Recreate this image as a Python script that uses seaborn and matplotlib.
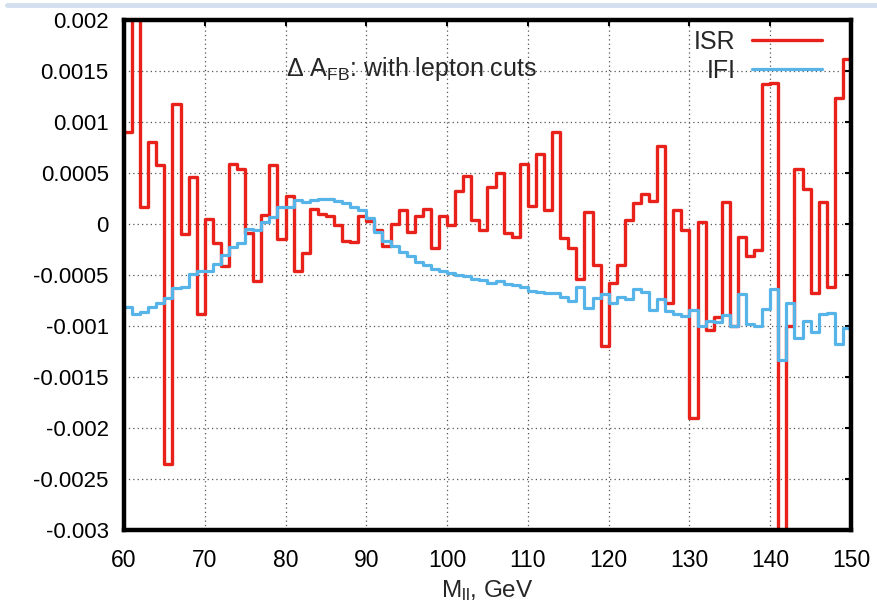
import numpy as np
import pandas as pd
import matplotlib
matplotlib.use('Agg')
import matplotlib.pyplot as plt
import seaborn as sns

# bin edges 60..150 GeV, 1 GeV bins
edges = list(range(60, 151))

isr = [0.0009, 0.0025, 0.00017, 0.0008, 0.00058, -0.00235, 0.00118, -0.0001, 0.00046, -0.00088,
       0.00005, -0.00019, -0.00041, 0.00059, 0.00054, -0.00009, -0.00056, 0.00009, 0.00058, -0.00015,
       0.00027, -0.00046, -0.00028, 0.00015, 0.0001, 0.00008, -0.00001, -0.00017, -0.00018, 0.00008,
       0.00003, -0.00006, -0.00022, 0.0, 0.00014, -0.00008, 0.00008, 0.00015, -0.00024, 0.00008,
       -0.00001, 0.00032, 0.00047, 0.00004, -0.00006, 0.00036, 0.0005, -0.00009, -0.00013, 0.00059,
       0.00018, 0.00069, 0.00014, 0.0009, -0.00014, -0.00024, -0.00054, 0.00012, -0.0004, -0.0012,
       -0.00058, -0.0004, 0.00004, 0.00021, 0.00029, 0.00023, 0.00076, -0.00077, 0.00014, -0.00006,
       -0.0019, 0.00002, -0.00104, -0.00091, 0.00022, -0.001, -0.00013, -0.00031, -0.00025, 0.00137,
       0.00138, -0.0035, -0.001, 0.00054, 0.00034, -0.00068, 0.00022, -0.00062, 0.00124, 0.00162]

ifi = [-0.00081, -0.00088, -0.00086, -0.00081, -0.00077, -0.00073, -0.00063, -0.00062, -0.00049, -0.00046,
       -0.00046, -0.00039, -0.0003, -0.00023, -0.00019, -0.00005, -0.00006, 0.00002, 0.00007, 0.00017,
       0.00017, 0.00024, 0.00022, 0.00024, 0.00025, 0.00025, 0.00023, 0.00021, 0.00017, 0.00014,
       0.00006, -0.00008, -0.00017, -0.00022, -0.00027, -0.00031, -0.00037, -0.0004, -0.00044, -0.00046,
       -0.00048, -0.0005, -0.00051, -0.00054, -0.00055, -0.00058, -0.00056, -0.00059, -0.0006, -0.00062,
       -0.00066, -0.00067, -0.00068, -0.00068, -0.00072, -0.00075, -0.00062, -0.00082, -0.00073, -0.00069,
       -0.00077, -0.00072, -0.00074, -0.00064, -0.00067, -0.00084, -0.00074, -0.00085, -0.00088, -0.0009,
       -0.00084, -0.001, -0.00095, -0.00096, -0.00089, -0.001, -0.00069, -0.00098, -0.001, -0.00083,
       -0.00064, -0.00133, -0.00077, -0.00112, -0.00095, -0.00106, -0.00088, -0.00087, -0.00118, -0.00102]

xticks = list(range(60, 151, 10))
yticks = [0.002, 0.0015, 0.001, 0.0005, 0, -0.0005, -0.001, -0.0015, -0.002, -0.0025, -0.003]
ytick_labels = ['0.002', '0.0015', '0.001', '0.0005', '0', '-0.0005', '-0.001',
                '-0.0015', '-0.002', '-0.0025', '-0.003']

red = '#e8221a'
blue = '#56b4e9'

sns.set_style('white')
plt.rcParams['font.family'] = ['Liberation Sans', 'DejaVu Sans']
plt.rcParams['mathtext.default'] = 'regular'
plt.rcParams['axes.unicode_minus'] = False

fig = plt.figure(figsize=(8.77, 6.06), dpi=100)
W, H = 877, 606
ax = fig.add_axes([124 / W, 1 - 530 / H, (851 - 124) / W, (530 - 20) / H])

# step data: repeat last value at the right edge
df_isr = pd.DataFrame({'m': edges, 'v': isr + [isr[-1]]})
df_ifi = pd.DataFrame({'m': edges, 'v': ifi + [ifi[-1]]})

sns.lineplot(data=df_isr, x='m', y='v', ax=ax, color=red, lw=2.4, drawstyle='steps-post',
             sort=False, errorbar=None, label='ISR')
sns.lineplot(data=df_ifi, x='m', y='v', ax=ax, color=blue, lw=2.3, drawstyle='steps-post',
             sort=False, errorbar=None, label='IFI')

ax.set_xlim(60, 150)
ax.set_ylim(-0.003, 0.002)
ax.set_xticks(xticks)
ax.set_xticklabels([str(t) for t in xticks])
ax.set_yticks(yticks)
ax.set_yticklabels(ytick_labels)
ax.grid(True, ls=(0, (1, 2.5)), color='#555555', lw=0.9)
ax.tick_params(direction='in', length=4, width=1.5, top=True, right=True,
               labelsize=16, colors='black')
ax.tick_params(axis='x', pad=14, labelsize=16.5)
ax.tick_params(axis='y', pad=11)
for s in ax.spines.values():
    s.set_linewidth(3.2)
    s.set_color('black')

ax.set_xlabel('M$_{ll}$, GeV', fontsize=17.5, labelpad=4)
ax.set_ylabel('')

ax.text(80, 0.00145, r'$\Delta$ A$_{FB}$: with lepton cuts', fontsize=18, va='baseline', ha='left')

leg = ax.legend(loc='upper right', bbox_to_anchor=((822 - 124) / 727, 1 - 10 / 510),
                frameon=False, markerfirst=False, fontsize=18, handlelength=2.8,
                handletextpad=0.65, labelspacing=0.18, borderpad=0, borderaxespad=0)

# light band at the top of the screenshot
fig.add_artist(plt.Line2D([7 / W, 1], [1 - 5 / H, 1 - 5 / H], color='#d3dfee', lw=3.5))

fig.savefig('out.png', dpi=100)
